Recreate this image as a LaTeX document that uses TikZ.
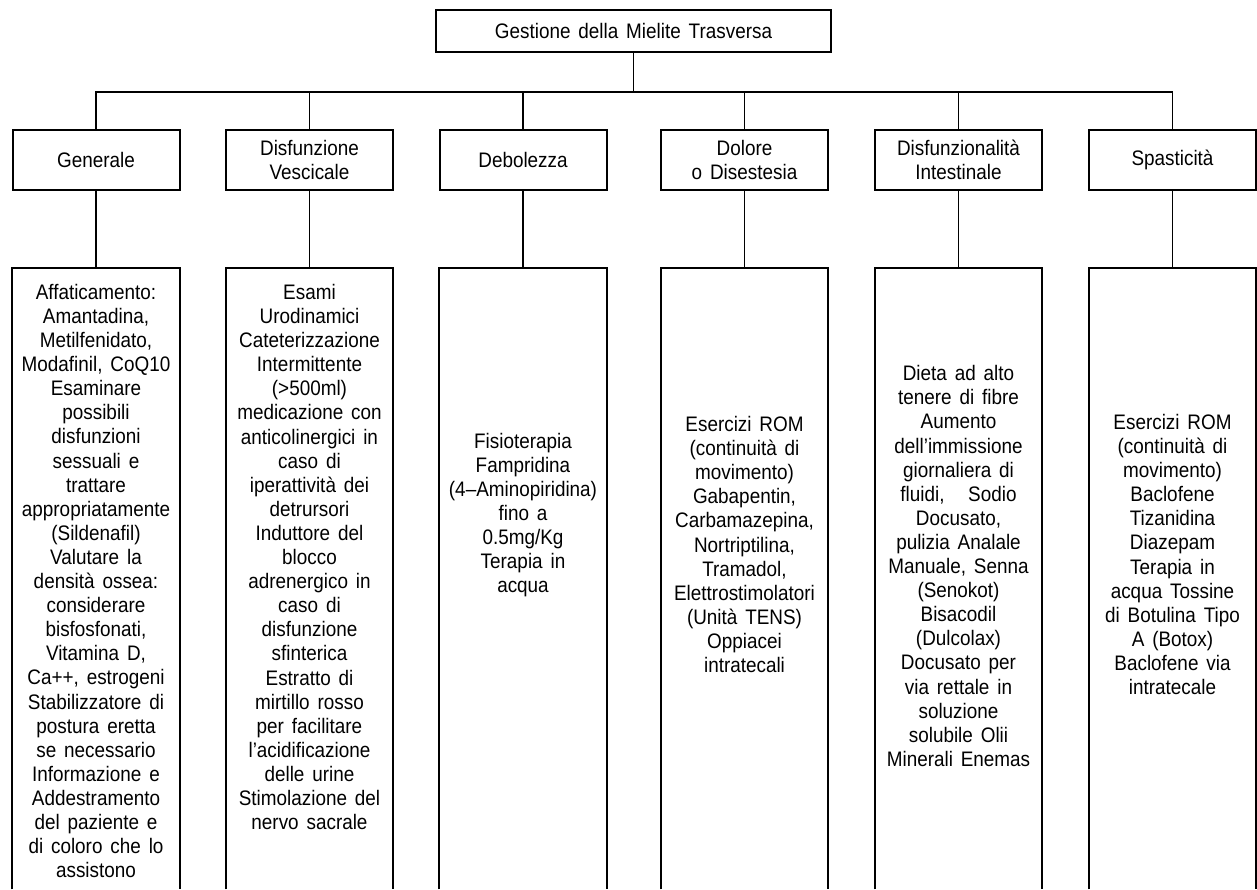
\documentclass[tikz,border=0pt]{standalone}
\usepackage{fontspec}
\setmainfont{Liberation Sans}[FakeStretch=0.9, WordSpace=1.5]
\begin{document}
\begin{tikzpicture}[x=1pt,y=-1pt,
  txt/.style={align=center, font=\fontsize{21pt}{24.1pt}\selectfont, inner sep=0pt},
  box/.style={draw, line width=2pt, minimum width=167pt, minimum height=60pt, inner sep=0pt, txt},
  frame/.style={minimum width=167pt, minimum height=621pt, inner sep=0pt, anchor=north},
  framedraw/.style={line width=2pt},
  conn/.style={line width=1.1pt}]
\useasboundingbox (0,0) rectangle (1257,889);

% top
\node[box, minimum width=395pt, minimum height=42pt] (top) at (633.5,31) {Gestione della Mielite Trasversa};
\coordinate (bus) at (633.5,92);

% level 2
\node[box] (b1) at (96,160) {Generale};
\node[box] (b2) at (309.5,160) {Disfunzione\\Vescicale};
\node[box] (b3) at (523,160) {Debolezza};
\node[box] (b4) at (744.5,160) {Dolore\\o Disestesia};
\node[box] (b5) at (958.5,160) {Disfunzionalità\\Intestinale};
\node[box] (b6) at (1172.5,160) {Spasticità};

% level 3 frames
\node[frame] (c1) at (96,268) {};
\node[frame] (c2) at (309.5,268) {};
\node[frame] (c3) at (523,268) {};
\node[frame] (c4) at (744.5,268) {};
\node[frame] (c5) at (958.5,268) {};
\node[frame] (c6) at (1172.5,268) {};
\foreach \n in {c1,c2,c3,c4,c5,c6}{
  \draw[framedraw] (\n.south west) |- (\n.north east) -- (\n.south east);
}

% connectors
\draw[conn] (top.south) -- (bus);
\foreach \i in {1,...,6}{
  \draw[conn] (b\i.north) |- (bus);
  \draw[conn] (b\i.south) -- (c\i.north);
}

% level 3 texts
\node[txt] (t1) at (96,581) {Affaticamento:\\Amantadina,\\Metilfenidato,\\Modafinil, CoQ10\\Esaminare\\possibili\\disfunzioni\\sessuali e\\trattare\\appropriatamente\\(Sildenafil)\\Valutare la\\densità ossea:\\considerare\\bisfosfonati,\\Vitamina D,\\Ca++, estrogeni\\Stabilizzatore di\\postura eretta\\se necessario\\Informazione e\\Addestramento\\del paziente e\\di coloro che lo\\assistono};
\node[txt] (t2) at (309.5,557) {Esami\\Urodinamici\\Cateterizzazione\\Intermittente\\(>500ml)\\medicazione con\\anticolinergici in\\caso di\\iperattività dei\\detrursori\\Induttore del\\blocco\\adrenergico in\\caso di\\disfunzione\\sfinterica\\Estratto di\\mirtillo rosso\\per facilitare\\l'acidificazione\\delle urine\\Stimolazione del\\nervo sacrale};
\node[txt] (t3) at (523,515) {Fisioterapia\\Fampridina\\(4–Aminopiridina)\\fino a\\0.5mg/Kg\\Terapia in\\acqua};
\node[txt] (t4) at (744.5,544.5) {Esercizi ROM\\(continuità di\\movimento)\\Gabapentin,\\Carbamazepina,\\Nortriptilina,\\Tramadol,\\Elettrostimolatori\\(Unità TENS)\\Oppiacei\\intratecali};
\node[txt] (t5) at (958.5,566) {Dieta ad alto\\tenere di fibre\\Aumento\\dell'immissione\\giornaliera di\\fluidi,\ \ \ Sodio\\Docusato,\\pulizia Analale\\Manuale, Senna\\(Senokot)\\Bisacodil\\(Dulcolax)\\Docusato per\\via rettale in\\soluzione\\solubile Olii\\Minerali Enemas};
\node[txt] (t6) at (1172.5,554.5) {Esercizi ROM\\(continuità di\\movimento)\\Baclofene\\Tizanidina\\Diazepam\\Terapia in\\acqua Tossine\\di Botulina Tipo\\A (Botox)\\Baclofene via\\intratecale};
\end{tikzpicture}
\end{document}
